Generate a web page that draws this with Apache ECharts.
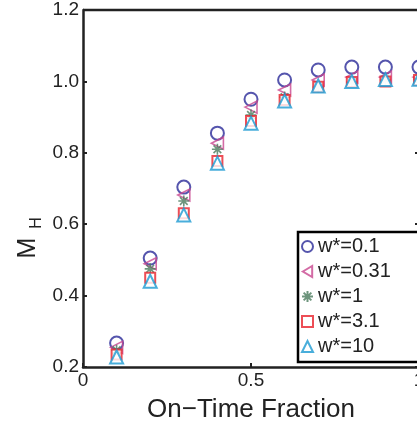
<!DOCTYPE html>
<html>
<head>
<meta charset="utf-8">
<script src="https://cdn.jsdelivr.net/npm/echarts@6/dist/echarts.min.js"></script>
<style>
  html, body { margin: 0; padding: 0; background: #fff; }
  #chart { width: 417px; height: 425px; }
</style>
</head>
<body>
<div id="chart"></div>
<script>
// on-time fraction (x) and M_H for each w*
var xVals = [0.1, 0.2, 0.3, 0.4, 0.5, 0.6, 0.7, 0.8, 0.9, 1.0];
var names = ['w*=0.1', 'w*=0.31', 'w*=1', 'w*=3.1', 'w*=10'];
var w01  = [0.267, 0.505, 0.704, 0.855, 0.950, 1.004, 1.032, 1.040, 1.040, 1.040];
var w031 = [0.255, 0.489, 0.682, 0.827, 0.928, 0.976, 1.004, 1.012, 1.012, 1.012];
var w1   = [0.247, 0.475, 0.665, 0.810, 0.906, 0.956, 0.984, 0.998, 1.004, 1.006];
var w31  = [0.235, 0.450, 0.631, 0.777, 0.889, 0.948, 0.985, 0.998, 1.000, 1.004];
var w10  = [0.228, 0.440, 0.626, 0.771, 0.883, 0.945, 0.987, 1.000, 1.005, 1.006];
var yTicks = [0.2, 0.4, 0.6, 0.8, 1.0, 1.2];
var xTicks = [0, 0.5, 1];

var chart = echarts.init(document.getElementById('chart'));

var symbols = [
    'emptyCircle',
    'path://M0,1L1.7,0L1.7,2Z',
    'path://M0,-1L0,1M-1,0L1,0M-0.7,-0.7L0.7,0.7M-0.7,0.7L0.7,-0.7',
    'emptyRect',
    'emptyTriangle'
];
var sizes = [13, 12, 11, 10, 13];
var colors = ['#2a2a98', '#c8468e', '#4a7a5c', '#e8222c', '#1c9ad2'];
var allData = [w01, w031, w1, w31, w10];

function pairs(ys) {
    var out = [];
    for (var i = 0; i < xVals.length; i++) out.push([xVals[i], ys[i]]);
    return out;
}

var series = [];
for (var s = 0; s < names.length; s++) {
    series.push({
        name: names[s],
        type: 'scatter',
        symbol: symbols[s],
        symbolSize: sizes[s],
        data: pairs(allData[s]),
        itemStyle: { color: s === 0 || s === 3 || s === 4 ? colors[s] : 'rgba(0,0,0,0)', borderColor: colors[s], borderWidth: 1.6 },
        emphasis: { disabled: true }
    });
}

var fontFam = '"Liberation Sans", Arial, sans-serif';

var option = {
    animation: false,
    textStyle: { fontFamily: fontFam },
    grid: { left: 83, top: 10, width: 336, height: 357, show: false, outerBoundsMode: 'none', containLabel: false },
    legend: {
        data: names,
        orient: 'vertical',
        left: 298,
        top: 232,
        padding: [4, 40, 5, 3],
        itemGap: 4,
        itemWidth: 11,
        itemHeight: 11,
        borderColor: '#000',
        borderWidth: 2.5,
        backgroundColor: '#fff',
        textStyle: { fontSize: 20, color: '#222', fontFamily: fontFam, padding: [0, 0, 0, 0], lineHeight: 21 }
    },
    xAxis: {
        type: 'value',
        min: 0,
        max: 1,
        interval: 0.5,
        name: 'On\u2212Time Fraction',
        nameLocation: 'middle',
        nameGap: 30,
        nameTextStyle: { fontSize: 26, color: '#222', fontFamily: fontFam },
        axisLine: { show: true, lineStyle: { color: '#222', width: 2.5 } },
        axisTick: { show: true, inside: true, length: 4, lineStyle: { color: '#222', width: 2 } },
        axisLabel: { fontSize: 19, color: '#222', margin: 4, formatter: function (v) { return String(v); } },
        splitLine: { show: false }
    },
    yAxis: [{
        type: 'value',
        min: 0.2,
        max: 1.2,
        interval: 0.2,
        axisLine: { show: true, lineStyle: { color: '#222', width: 2.5 } },
        axisTick: { show: true, inside: true, length: 4, lineStyle: { color: '#222', width: 2 } },
        axisLabel: { fontSize: 19, color: '#222', margin: 4, formatter: function (v) { return v.toFixed(1); } },
        splitLine: { show: false }
    }, {
        type: 'value',
        position: 'right',
        min: 0.2,
        max: 1.2,
        interval: 0.2,
        axisLine: { show: true, lineStyle: { color: '#222', width: 2.5 } },
        axisTick: { show: true, inside: true, length: 4, lineStyle: { color: '#222', width: 2 } },
        axisLabel: { show: false },
        splitLine: { show: false }
    }],
    graphic: [
        { type: 'line', shape: { x1: 83, y1: 10, x2: 420, y2: 10 }, style: { stroke: '#222', lineWidth: 2.5 } },
        { type: 'text', x: 28, y: 248, rotation: Math.PI / 2, style: { text: 'M', fill: '#222', font: '25px ' + fontFam, align: 'center', verticalAlign: 'middle' } },
        { type: 'text', x: 37, y: 223, rotation: Math.PI / 2, style: { text: 'H', fill: '#222', font: '16px ' + fontFam, align: 'center', verticalAlign: 'middle' } }
    ],
    series: series
};

chart.setOption(option);
</script>
</body>
</html>
